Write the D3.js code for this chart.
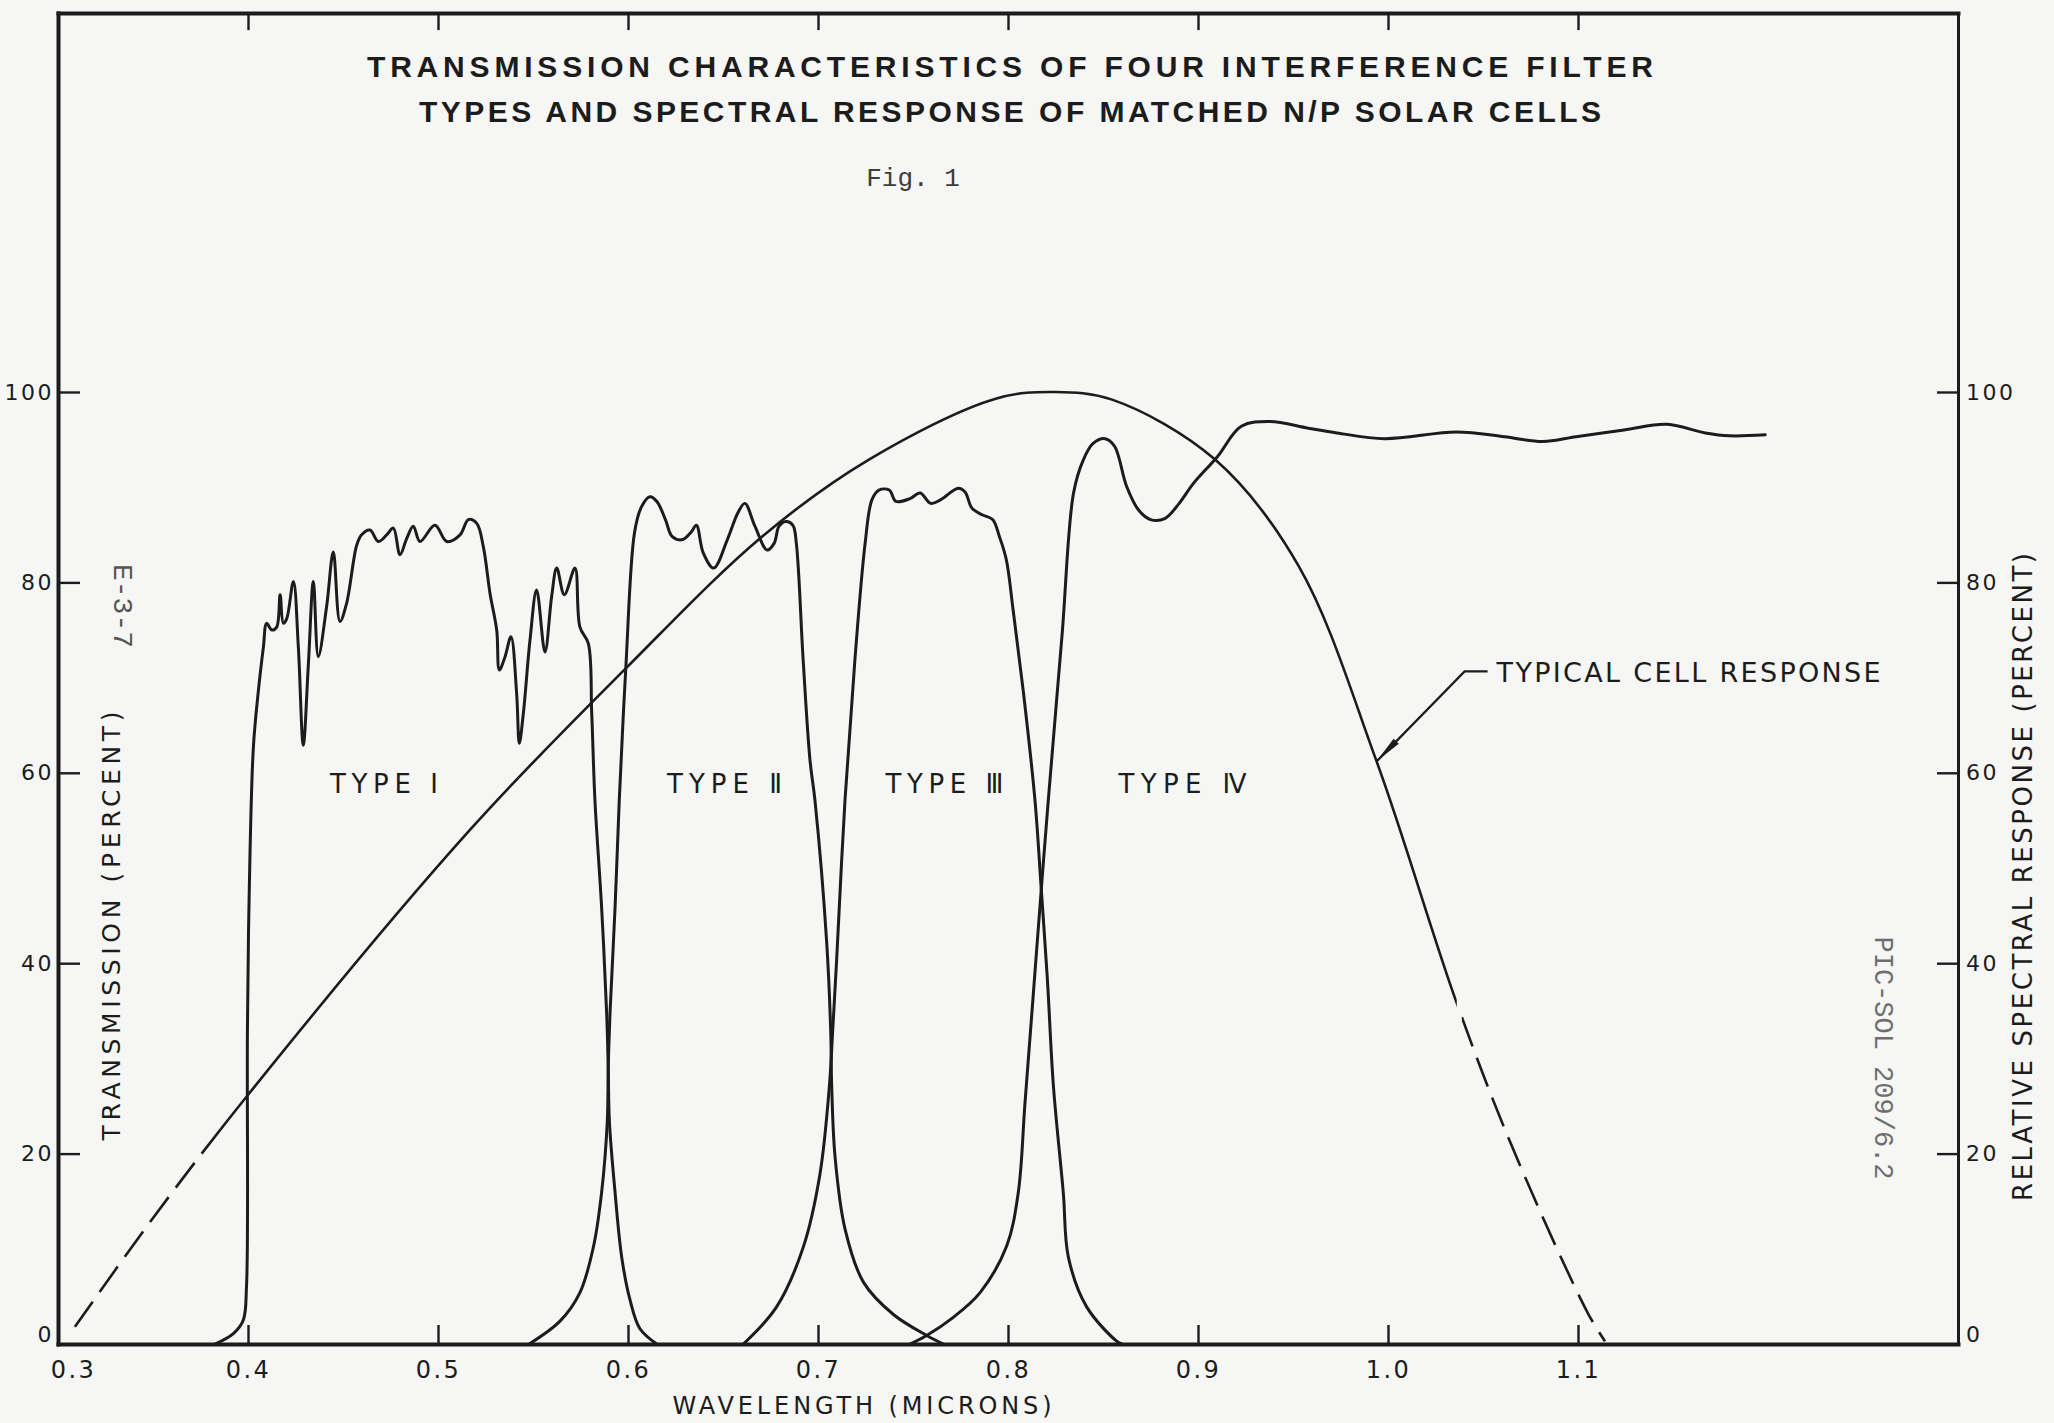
<!DOCTYPE html>
<html>
<head>
<meta charset="utf-8">
<script src="https://cdn.jsdelivr.net/npm/d3@7"></script>
<style>
  html, body { margin: 0; padding: 0; background: #f6f6f4; }
  svg { display: block; }
</style>
</head>
<body>
<svg id="chart" width="2054" height="1423"></svg>
<script>
// ---- data (wavelength in microns, percent) ----
const wavelengthTicks = [0.3, 0.4, 0.5, 0.6, 0.7, 0.8, 0.9, 1.0, 1.1];
const percentTicks = [0, 20, 40, 60, 80, 100];

const typeI = [
  [0.3826, 0], [0.3923, 1.1], [0.3975, 2.5], [0.3992, 6], [0.3997, 33], [0.4007, 48],
  [0.4028, 62.6], [0.4054, 68.5], [0.4081, 73.2], [0.4098, 75.7], [0.4125, 75.0],
  [0.4151, 75.3], [0.4169, 78.7], [0.4186, 75.7], [0.4204, 76.2], [0.4239, 80.1],
  [0.4265, 73.2], [0.4291, 62.9], [0.4318, 71.5], [0.4344, 80.1], [0.4370, 72.2],
  [0.4414, 77.5], [0.4449, 83.2], [0.4484, 75.9], [0.4519, 77.8], [0.4572, 83.9],
  [0.4598, 85.0], [0.4642, 85.5], [0.4686, 84.3], [0.4730, 85.0], [0.4765, 85.7],
  [0.4800, 82.9], [0.4835, 84.6], [0.4870, 85.9], [0.4905, 84.3], [0.4984, 86.0],
  [0.5046, 84.3], [0.5116, 85.0], [0.5160, 86.6], [0.5204, 86.2], [0.5239, 83.7],
  [0.5274, 78.8], [0.5309, 75.0], [0.5323, 70.8], [0.5353, 72.2], [0.5384, 74.3],
  [0.5414, 68.3], [0.5428, 63.1], [0.5449, 66.2], [0.5484, 73.9], [0.5519, 79.2],
  [0.5563, 72.7], [0.5598, 78.5], [0.5625, 81.5], [0.5665, 78.7], [0.5721, 81.5],
  [0.5747, 75.3], [0.5791, 73.6], [0.5809, 66.3], [0.5826, 57.1], [0.5861, 45.9],
  [0.5888, 34.6], [0.5896, 29], [0.5902, 23.4], [0.5932, 15.9], [0.5967, 9.1],
  [0.6011, 4.6], [0.6063, 1.6], [0.6151, 0]
];

const typeII = [
  [0.548, 0], [0.5642, 2.4], [0.5747, 5.4], [0.5818, 10.2], [0.5861, 15.9],
  [0.5891, 23.4], [0.5896, 29], [0.5905, 34.6], [0.5932, 45.9], [0.5954, 57.1],
  [0.5989, 71.2], [0.6034, 85.2], [0.6070, 87.9], [0.6115, 89.0], [0.6152, 88.5],
  [0.6197, 86.6], [0.6233, 84.8], [0.6288, 84.5], [0.6333, 85.3], [0.6360, 86.0],
  [0.6396, 83.1], [0.6451, 81.5], [0.6523, 84.5], [0.6578, 87.3], [0.6615, 88.3],
  [0.6668, 85.9], [0.6732, 83.4], [0.6769, 84.1], [0.6795, 85.9], [0.6831, 86.4],
  [0.6868, 86.0], [0.6886, 84.1], [0.6922, 71.8], [0.6958, 61.3], [0.6984, 57.1],
  [0.7046, 42.1], [0.7067, 32.8], [0.7072, 27.1], [0.7090, 19.6], [0.7142, 12.1],
  [0.7239, 6.5], [0.7397, 3.1], [0.7572, 0.9], [0.7660, 0]
];

const typeIII = [
  [0.6607, 0], [0.6782, 3.9], [0.6923, 10.2], [0.7010, 17.8], [0.7060, 27.1],
  [0.7077, 32.8], [0.7098, 40.3], [0.7142, 57.1], [0.7194, 71.8], [0.7248, 84.1],
  [0.7284, 88.7], [0.7321, 89.7], [0.7375, 89.7], [0.7411, 88.5], [0.7484, 88.8],
  [0.7538, 89.4], [0.7593, 88.3], [0.7647, 88.7], [0.7738, 89.9], [0.7774, 89.5],
  [0.7810, 87.8], [0.7864, 87.1], [0.7919, 86.6], [0.7955, 84.8], [0.7991, 82.4],
  [0.8027, 77.1], [0.8082, 68.3], [0.8142, 57.1], [0.8175, 47.8], [0.8207, 38.4],
  [0.8239, 27.1], [0.8291, 15.9], [0.8318, 9.1], [0.8414, 3.9], [0.8572, 0.3],
  [0.8600, 0]
];

const typeIV = [
  [0.7484, 0], [0.7572, 0.9], [0.7712, 2.8], [0.7853, 5.4], [0.7993, 10.3],
  [0.8054, 15.9], [0.8089, 25.2], [0.8125, 34.6], [0.8168, 45.9], [0.8212, 57.1],
  [0.8285, 74.6], [0.8345, 89.4], [0.8397, 92.9], [0.8448, 94.6],
  [0.8511, 95.1], [0.8561, 94.3], [0.8624, 90.1], [0.8687, 87.6], [0.8750, 86.6],
  [0.8825, 86.7], [0.8901, 88.3], [0.8976, 90.4], [0.9102, 93.2], [0.9228, 96.4],
  [0.9379, 96.9], [0.9580, 96.2], [0.9732, 95.7], [0.9983, 95.1], [1.0361, 95.8],
  [1.0613, 95.3], [1.0814, 94.8], [1.0990, 95.3], [1.1242, 96.0], [1.1468, 96.6],
  [1.1670, 95.7], [1.1796, 95.4], [1.1985, 95.5]
];

// typical N/P cell relative spectral response; dashed where extrapolated
const cellResponse = [
  [0.3089, 1.8], [0.3484, 12.8], [0.3993, 26.0], [0.5168, 54.0], [0.5995, 71.1],
  [0.6705, 84.8], [0.7268, 92.9], [0.7935, 99.3], [0.8246, 100], [0.8548, 99.2],
  [0.9090, 92.9], [0.9530, 81.7], [0.9940, 61.2], [1.0362, 35.8], [1.0658, 20.5],
  [1.1053, 3.2], [1.1142, 0.3]
];
const cellMeasured = [0.3853, 1.0362];   // solid between these wavelengths

const filterNames = ["TYPE I", "TYPE \u2161", "TYPE \u2162", "TYPE \u2163"];
const titleLines = [
  "TRANSMISSION  CHARACTERISTICS OF FOUR INTERFERENCE FILTER",
  "TYPES AND SPECTRAL RESPONSE OF MATCHED N/P SOLAR CELLS"
];

// ---- drawing ----
const ink = "#1c1c1c";
const sans = "'DejaVu Sans', 'Liberation Sans', sans-serif";
const mono = "'Liberation Mono', 'DejaVu Sans Mono', monospace";

const svg = d3.select("#chart");
svg.append("rect").attr("width", 2054).attr("height", 1423).attr("fill", "#f6f6f4");

const x = d3.scaleLinear().domain([0.3, 1.3]).range([58, 1958]);
const y = d3.scaleLinear().domain([0, 139.8]).range([1344, 13.1]);
const fmt = d3.format(".1f");

function styleAxis(g, width) {
  g.attr("font-family", sans).attr("font-size", 22);
  g.select(".domain").attr("stroke", ink).attr("stroke-width", width).attr("stroke-linecap", "square");
  g.selectAll(".tick line").attr("stroke", ink).attr("stroke-width", 2.4);
  g.selectAll(".tick text").attr("fill", ink).attr("letter-spacing", 2.5);
}

// bottom wavelength axis
const gx = svg.append("g")
  .attr("transform", `translate(0,${y(0)})`)
  .call(d3.axisBottom(x).tickValues(wavelengthTicks).tickFormat(fmt)
    .tickSize(-19).tickSizeOuter(0).tickPadding(17));
styleAxis(gx, 4);
gx.selectAll(".tick text").attr("font-size", 24);
gx.selectAll(".tick").filter(d => d === 0.3).select("line").remove();
gx.selectAll(".tick").filter(d => d === 0.3).select("text").attr("dx", 15);

// top frame with wavelength ticks
const gTop = svg.append("g")
  .attr("transform", `translate(0,${y(139.8)})`)
  .call(d3.axisTop(x).tickValues(wavelengthTicks.slice(1)).tickFormat(() => "")
    .tickSize(-17).tickSizeOuter(0));
styleAxis(gTop, 4);

// left transmission axis
const gyL = svg.append("g")
  .attr("transform", `translate(${x(0.3)},0)`)
  .call(d3.axisLeft(y).tickValues(percentTicks).tickSize(-22).tickSizeOuter(0).tickPadding(4));
styleAxis(gyL, 4);
gyL.selectAll(".tick").filter(d => d === 0).select("line").remove();
gyL.selectAll(".tick").filter(d => d === 0).select("text").attr("dy", "-0.12em");

// right relative response axis
const gyR = svg.append("g")
  .attr("transform", `translate(${x(1.3)},0)`)
  .call(d3.axisRight(y).tickValues(percentTicks).tickSize(-21).tickSizeOuter(0).tickPadding(8));
styleAxis(gyR, 3);
gyR.selectAll(".tick").filter(d => d === 0).select("line").remove();
gyR.selectAll(".tick").filter(d => d === 0).select("text").attr("dy", "-0.12em");

// filter transmission curves
const line = d3.line()
  .x(d => x(d[0])).y(d => y(d[1]))
  .curve(d3.curveCatmullRom.alpha(0.5));

svg.append("g").selectAll("path")
  .data([typeI, typeII, typeIII, typeIV])
  .join("path")
  .attr("d", line)
  .attr("fill", "none").attr("stroke", ink).attr("stroke-width", 3)
  .attr("stroke-linejoin", "round").attr("stroke-linecap", "round");

// cell response: one smooth curve, solid over the measured range, dashed outside
const cellD = line(cellResponse);
const defs = svg.append("defs");
defs.append("clipPath").attr("id", "clipMeasured").append("rect")
  .attr("x", x(cellMeasured[0])).attr("y", 0)
  .attr("width", x(cellMeasured[1]) - x(cellMeasured[0])).attr("height", 1423);
defs.append("clipPath").attr("id", "clipLow").append("rect")
  .attr("x", 0).attr("y", 0).attr("width", x(cellMeasured[0])).attr("height", 1423);
defs.append("clipPath").attr("id", "clipHigh").append("rect")
  .attr("x", x(cellMeasured[1]) + 5).attr("y", 0)
  .attr("width", 2054 - x(cellMeasured[1])).attr("height", 1423);

const gCell = svg.append("g").attr("fill", "none").attr("stroke", ink).attr("stroke-width", 2.6);
gCell.append("path").attr("d", cellD).attr("clip-path", "url(#clipMeasured)");
gCell.append("path").attr("d", cellD).attr("clip-path", "url(#clipLow)")
  .attr("stroke-dasharray", "31,12");
const highPath = gCell.append("path").attr("d", cellD).attr("clip-path", "url(#clipHigh)")
  .attr("stroke-dasharray", "31,12");
{
  // start the upper dash pattern where the measured part ends
  const node = highPath.node();
  const target = x(cellMeasured[1]) + 5;
  let lo = 0, hi = node.getTotalLength();
  for (let k = 0; k < 40; k++) {
    const mid = (lo + hi) / 2;
    if (node.getPointAtLength(mid).x < target) lo = mid; else hi = mid;
  }
  highPath.attr("stroke-dashoffset", -lo);
}

// leader and arrow for the cell response label
const tip = [x(0.994), y(61.2)];
const elbow = [tip[0] + 88, tip[1] - 90];
const shoulder = [elbow[0] + 23, elbow[1]];
svg.append("path")
  .attr("d", `M${tip[0]},${tip[1]}L${elbow[0]},${elbow[1]}L${shoulder[0]},${shoulder[1]}`)
  .attr("fill", "none").attr("stroke", ink).attr("stroke-width", 2.2);
{
  const dx = elbow[0] - tip[0], dy = elbow[1] - tip[1];
  const len = Math.hypot(dx, dy), ux = dx / len, uy = dy / len;
  const bx = tip[0] + ux * 28, by = tip[1] + uy * 28;
  svg.append("path")
    .attr("d", `M${tip[0]},${tip[1]}L${bx - uy * 3.6},${by + ux * 3.6}L${bx + uy * 3.6},${by - ux * 3.6}Z`)
    .attr("fill", ink);
}
svg.append("text")
  .attr("x", shoulder[0] + 9).attr("y", shoulder[1] + 11)
  .attr("font-family", sans).attr("font-size", 27).attr("fill", ink)
  .attr("textLength", 384).attr("lengthAdjust", "spacing")
  .text("TYPICAL CELL RESPONSE");

// filter type labels
const labelAt = [0.4716, 0.6508, 0.7666, 0.8918];
const labelLen = [108, 115, 118, 128];
svg.append("g").selectAll("text")
  .data(filterNames)
  .join("text")
  .attr("x", (d, i) => x(labelAt[i]) - labelLen[i] / 2)
  .attr("y", y(58.9) + 9.5)
  .attr("font-family", sans).attr("font-size", 26).attr("fill", ink)
  .attr("textLength", (d, i) => labelLen[i]).attr("lengthAdjust", "spacing")
  .text(d => d);

// titles
const titleWidths = [1286, 1182];
svg.append("g").selectAll("text")
  .data(titleLines)
  .join("text")
  .attr("x", 1010).attr("y", (d, i) => 77 + i * 45)
  .attr("text-anchor", "middle")
  .attr("font-family", "'Liberation Sans', 'DejaVu Sans', sans-serif")
  .attr("font-size", 30).attr("font-weight", "bold")
  .attr("fill", ink)
  .attr("textLength", (d, i) => titleWidths[i]).attr("lengthAdjust", "spacing")
  .text(d => d);

svg.append("text")
  .attr("x", 913).attr("y", 186).attr("text-anchor", "middle")
  .attr("font-family", mono).attr("font-size", 26).attr("fill", "#3c3c3c")
  .text("Fig. 1");

// axis titles
svg.append("text")
  .attr("transform", "translate(111,926) rotate(-90)")
  .attr("text-anchor", "middle").attr("dominant-baseline", "central")
  .attr("font-family", sans).attr("font-size", 25).attr("fill", ink)
  .attr("textLength", 429).attr("lengthAdjust", "spacing")
  .text("TRANSMISSION (PERCENT)");

svg.append("text")
  .attr("transform", "translate(2023,877) rotate(-90)")
  .attr("text-anchor", "middle").attr("dominant-baseline", "central")
  .attr("font-family", sans).attr("font-size", 26).attr("fill", ink)
  .attr("textLength", 648).attr("lengthAdjust", "spacing")
  .text("RELATIVE SPECTRAL RESPONSE (PERCENT)");

svg.append("text")
  .attr("x", 862).attr("y", 1414).attr("text-anchor", "middle")
  .attr("font-family", sans).attr("font-size", 24).attr("fill", ink)
  .attr("textLength", 379).attr("lengthAdjust", "spacing")
  .text("WAVELENGTH (MICRONS)");

// typed file marks
svg.append("text")
  .attr("transform", "translate(121,606) rotate(90)")
  .attr("text-anchor", "middle").attr("dominant-baseline", "central")
  .attr("font-family", mono).attr("font-size", 28).attr("fill", "#555")
  .text("E-3-7");

svg.append("text")
  .attr("transform", "translate(1882,1058) rotate(90)")
  .attr("text-anchor", "middle").attr("dominant-baseline", "central")
  .attr("font-family", mono).attr("font-size", 27).attr("fill", "#6e6e6e")
  .text("PIC-SOL 209/6.2");
</script>
</body>
</html>
